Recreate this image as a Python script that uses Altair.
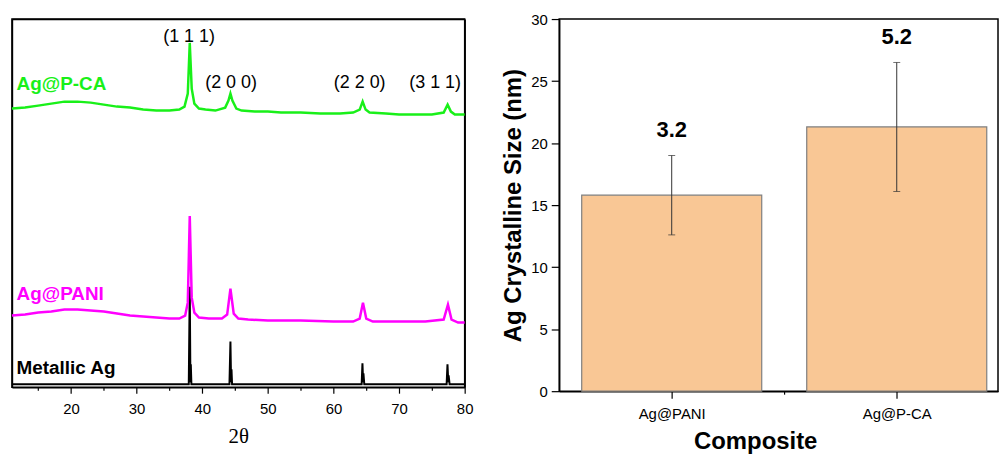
import altair as alt
import pandas as pd

# ---------------- XRD data (arbitrary intensity units) ----------------
tt_ag = [11, 37.95, 38.1, 38.2, 38.26, 38.35, 44.15, 44.3, 44.4, 44.46, 44.55,
         64.3, 64.42, 64.52, 64.57, 64.7, 77.25, 77.38, 77.5, 77.55, 77.7, 80]
int_ag = [3, 3, 101, 5, 23, 3, 3, 46, 5, 18, 3,
          3, 24, 5, 14, 3, 3, 23, 5, 12, 3, 3]

tt_pani = [11, 13, 15, 17, 19, 21, 23, 25, 27, 29, 31, 33, 35, 36.5, 37.4, 37.8, 38.1,
           38.4, 38.8, 39.5, 41, 43, 43.8, 44.3, 44.8, 45.5, 47, 50, 55, 60, 63, 64.0,
           64.5, 65.0, 66, 70, 74, 76.8, 77.45, 78.0, 79, 80]
int_pani = [72, 73, 75, 76, 78, 78, 77, 76, 74, 72, 71, 70, 69, 69, 72, 85, 172,
            90, 75, 70, 69, 69, 73, 99, 74, 69, 68, 67, 67, 66, 66, 69,
            85, 69, 66, 66, 66, 68, 83, 68, 65, 65]

tt_pca = [11, 13, 15, 17, 19, 21, 23, 25, 27, 29, 31, 33, 35, 36.5, 37.3, 37.8, 38.1,
          38.4, 38.8, 39.5, 40.5, 42, 43.5, 44.0, 44.3, 44.6, 45.2, 46, 48, 50, 52, 55,
          58, 61, 63, 64.0, 64.45, 64.9, 65.5, 68, 70, 73, 75, 76.8, 77.4, 77.9, 78.5, 80]
int_pca = [280, 281, 283, 285, 287, 287, 286, 284, 282, 281, 279, 278, 278, 279, 282, 295, 346,
           300, 285, 280, 279, 278, 281, 288, 295, 288, 280, 278, 277, 277, 276, 276,
           275, 275, 276, 279, 287, 279, 276, 275, 274, 274, 274, 276, 284, 277, 274, 274]

series_names = ["Metallic Ag", "Ag@PANI", "Ag@P-CA"]
series_colors = ["#000000", "#FF00FF", "#19F019"]
series_widths = [2.0, 2.5, 2.5]
series_label_x = [11.7, 11.7, 11.7]
series_label_y = [13, 88, 299]

hkl_labels = ["(1 1 1)", "(2 0 0)", "(2 2 0)", "(3 1 1)"]
hkl_x = [38.0, 44.4, 64.0, 75.5]
hkl_y = [347, 301, 301, 301]

major_2theta = [20, 30, 40, 50, 60, 70, 80]
minor_2theta = [15, 25, 35, 45, 55, 65, 75]

# ---------------- Crystallite size data ----------------
composites = ["Ag@PANI", "Ag@P-CA"]
sizes = [15.8, 21.3]
errors = [3.2, 5.2]

FONT = "Liberation Sans"

xs_l = alt.Scale(domain=[11, 80], nice=False, zero=False)
ys_l = alt.Scale(domain=[0, 370], nice=False, zero=False)

x_axis_l = alt.Axis(
    title="2θ", values=major_2theta, orient="bottom",
    tickSize=6, labelOverlap=False, labelFlush=False,
    labelPadding=8, labelFontSize=15, labelFont=FONT,
    titleFont="Liberation Serif", titleFontSize=21, titleFontWeight="normal",
    titlePadding=10, grid=False, domain=True,
)
y_axis_l = alt.Axis(title=None, labels=False, ticks=False, grid=False, domain=True, orient="left")

layers = []
for i, (name, xs, ys) in enumerate(zip(series_names, [tt_ag, tt_pani, tt_pca],
                                       [int_ag, int_pani, int_pca])):
    df = pd.DataFrame({"tt": xs, "inten": ys})
    layers.append(
        alt.Chart(df).mark_line(color=series_colors[i], strokeWidth=series_widths[i]).encode(
            x=alt.X("tt:Q", scale=xs_l, axis=x_axis_l if i == 0 else None),
            y=alt.Y("inten:Q", scale=ys_l, axis=y_axis_l if i == 0 else None),
        )
    )
    lab = pd.DataFrame({"name": [name], "lx": [series_label_x[i]], "ly": [series_label_y[i]]})
    layers.append(
        alt.Chart(lab).mark_text(
            align="left", baseline="alphabetic", fontSize=19, fontWeight="bold",
            font=FONT, color=series_colors[i]
        ).encode(
            x=alt.X("lx:Q", scale=xs_l, axis=None), y=alt.Y("ly:Q", scale=ys_l, axis=None),
            text="name:N",
        )
    )

hkl_df = pd.DataFrame({"label": hkl_labels, "hx": hkl_x, "hy": hkl_y})
layers.append(
    alt.Chart(hkl_df).mark_text(
        align="center", baseline="alphabetic", fontSize=18, font=FONT, color="black"
    ).encode(
        x=alt.X("hx:Q", scale=xs_l, axis=None), y=alt.Y("hy:Q", scale=ys_l, axis=None),
        text="label:N",
    )
)
# invisible layer that carries the top / right frame lines as axis domains
layers.append(
    alt.Chart(hkl_df).mark_point(opacity=0).encode(
        x=alt.X("hx:Q", scale=xs_l, axis=alt.Axis(orient="top", labels=False, ticks=False,
                                                   title=None, grid=False, domain=True)),
        y=alt.Y("hy:Q", scale=ys_l, axis=alt.Axis(orient="right", labels=False, ticks=False,
                                                   title=None, grid=False, domain=True)),
    )
)
# invisible layer that carries the minor ticks of the 2-theta axis
layers.append(
    alt.Chart(hkl_df).mark_point(opacity=0).encode(
        x=alt.X("hx:Q", scale=xs_l, axis=alt.Axis(orient="bottom", values=minor_2theta,
                                                   tickSize=3, labels=False, domain=False,
                                                   title=None, grid=False)),
        y=alt.Y("hy:Q", scale=ys_l, axis=None),
    )
)
left = alt.layer(*layers).resolve_axis(
    x="independent", y="independent"
).properties(width=455, height=370)

# ---------------- right panel ----------------
bar_df = pd.DataFrame({
    "comp": composites, "size": sizes, "err": errors,
    "pos": [i + 1 for i in range(len(composites))],
})
label_expr = " : ".join(
    [f"datum.value == {i + 1} ? '{c}'" for i, c in enumerate(composites)]
) + " : ''"

xs_r = alt.Scale(domain=[0.5, 2.45], nice=False, zero=False)
ys_r = alt.Scale(domain=[0, 30], nice=False)

x_axis_r = alt.Axis(
    title="Composite", values=[1, 1.5, 2], labelExpr=label_expr,
    labelOverlap=False, labelFlush=False,
    tickSize={"condition": {"test": "datum.value == 1.5", "value": 3}, "value": 7},
    labelPadding=8, labelFontSize=15, labelFont=FONT,
    titleFont=FONT, titleFontSize=24, titleFontWeight="bold",
    titleX=197, titleY=58, titleBaseline="alphabetic", titleAlign="center", grid=False,
)
y_axis_r = alt.Axis(
    title="Ag Crystalline Size (nm)", values=[v * 2.5 for v in range(13)],
    labelExpr="datum.value % 5 == 0 ? datum.label : ''",
    labelOverlap=False,
    tickSize={"condition": {"test": "datum.value % 5 != 0", "value": 4}, "value": 8},
    labelPadding=4, labelFontSize=15, labelFont=FONT,
    titleFont=FONT, titleFontSize=24, titleFontWeight="bold",
    titleAngle=270, titleX=-39, titleY=187, titleAlign="center",
    titleBaseline="alphabetic", grid=False,
)

base = alt.Chart(bar_df).transform_calculate(
    lo="datum.size - datum.err", hi="datum.size + datum.err",
    x1="datum.pos - 0.4", x2="datum.pos + 0.4",
    lab="format(datum.err, '.1f')",
)
bars = base.mark_bar(fill="#F9C795", stroke="#7F7F7F", strokeWidth=1.2).encode(
    x=alt.X("x1:Q", scale=xs_r, axis=x_axis_r),
    x2="x2:Q",
    y=alt.Y("size:Q", scale=ys_r, axis=y_axis_r),
    y2=alt.datum(0),
)
err = base.mark_rule(color="#333333", strokeWidth=1).encode(
    x=alt.X("pos:Q", scale=xs_r), y=alt.Y("lo:Q", scale=ys_r), y2="hi:Q",
)
cap_lo = base.mark_tick(orient="horizontal", size=7, thickness=1, color="#333333").encode(
    x=alt.X("pos:Q", scale=xs_r), y=alt.Y("lo:Q", scale=ys_r),
)
cap_hi = base.mark_tick(orient="horizontal", size=7, thickness=1, color="#333333").encode(
    x=alt.X("pos:Q", scale=xs_r), y=alt.Y("hi:Q", scale=ys_r),
)
val_txt = base.mark_text(
    fontSize=22, fontWeight="bold", font=FONT, baseline="alphabetic", dy=-19, color="black"
).encode(
    x=alt.X("pos:Q", scale=xs_r), y=alt.Y("hi:Q", scale=ys_r), text="lab:N",
)
right = alt.layer(bars, err, cap_lo, cap_hi, val_txt).properties(width=441, height=374)

chart = alt.hconcat(left, right, spacing=26).properties(
    padding={"left": 6, "top": 10, "right": 0, "bottom": 0},
    background="white",
).configure_view(
    stroke="black", strokeWidth=1.5
).configure_axis(
    domainColor="black", tickColor="black", labelColor="black", titleColor="black",
    domainWidth=1.5, tickWidth=1.2,
)

chart.save("out.html", embed_options={"renderer": "svg", "actions": False})
